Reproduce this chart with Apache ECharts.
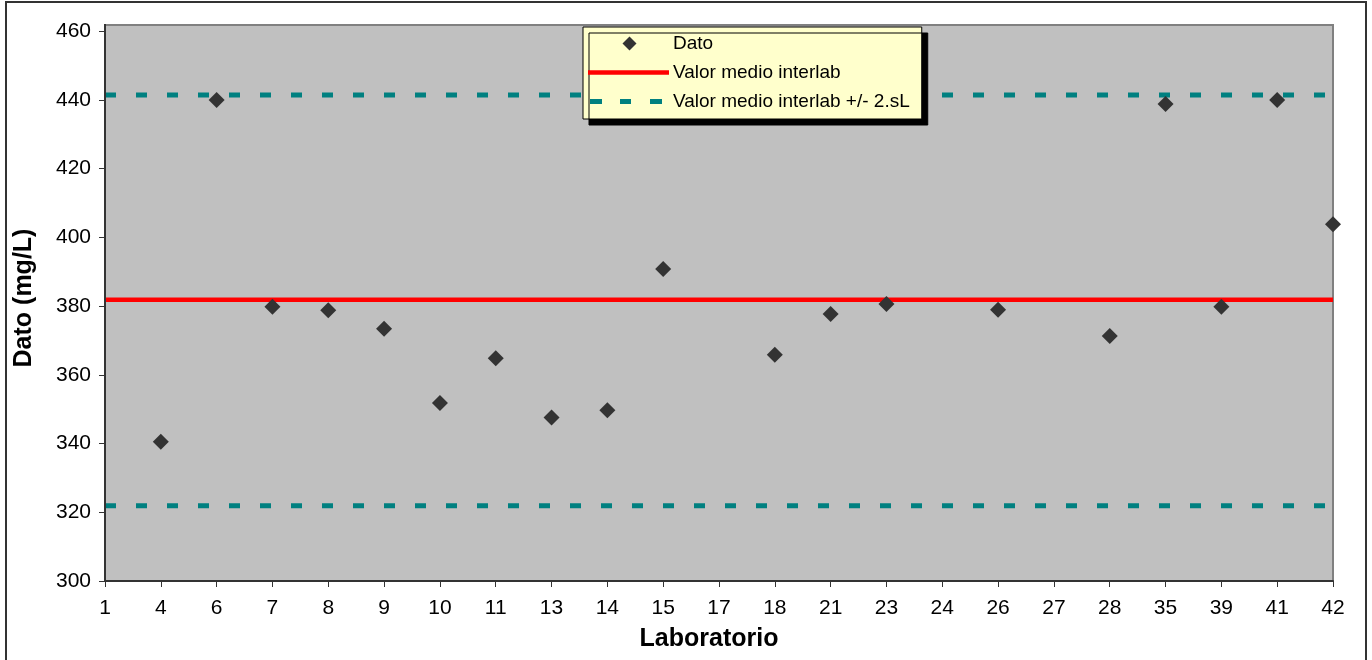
<!DOCTYPE html>
<html>
<head>
<meta charset="utf-8">
<script src="https://cdn.jsdelivr.net/npm/echarts@6/dist/echarts.min.js"></script>
<style>
html, body { margin: 0; padding: 0; background: #ffffff; }
#chart { width: 1372px; height: 660px; }
</style>
</head>
<body>
<div id="chart"></div>
<script>
const laboratorios = ['1', '4', '6', '7', '8', '9', '10', '11', '13', '14', '15', '17', '18', '21', '23', '24', '26', '27', '28', '35', '39', '41', '42'];
const datos = [null, 340.5, 439.9, 379.8, 378.8, 373.4, 351.8, 364.8, 347.6, 349.7, 390.8, null, 365.8, 377.7, 380.6, null, 378.9, null, 371.3, 438.8, 379.8, 439.9, 403.8];
const valorMedio = 381.8;
const limiteSuperior = 441.4;
const limiteInferior = 321.9;
const yMin = 300, yMax = 460, yInterval = 20;

const FONT = '"Liberation Sans", Arial, sans-serif';
const first = laboratorios[0], last = laboratorios[laboratorios.length - 1];

const ICON_DIAMOND = 'path://M0,0 M81,14 M34.5,7 L41.5,0 L48.5,7 L41.5,14 Z';
const ICON_SOLID = 'path://M0,0 M81,14 M0,4.7 L82,4.7 L82,9.3 L0,9.3 Z';
const ICON_DASH = 'path://M0,0 M81,14 M2,4.5 L14,4.5 L14,9.5 L2,9.5 Z M32,4.5 L43,4.5 L43,9.5 L32,9.5 Z M62,4.5 L74,4.5 L74,9.5 L62,9.5 Z';

const chart = echarts.init(document.getElementById('chart'), null, { renderer: 'canvas' });
chart.setOption({
  animation: false,
  backgroundColor: '#ffffff',
  textStyle: { fontFamily: FONT, color: '#000' },
  graphic: [
    { type: 'rect', z: -10, shape: { x: 6, y: 2, width: 1360, height: 680 },
      style: { fill: 'none', stroke: '#333333', lineWidth: 2 } },
    { type: 'rect', z: -5, shape: { x: 105, y: 25, width: 1228, height: 556 },
      style: { fill: '#C0C0C0', stroke: '#808080', lineWidth: 2 } },
    { type: 'line', z: 10, shape: { x1: 105, y1: 24, x2: 105, y2: 581 },
      style: { stroke: '#333333', lineWidth: 2 } }
  ],
  grid: { left: 105, right: 39, top: 31, bottom: 79, containLabel: false },
  legend: {
    left: 583, top: 27, orient: 'vertical',
    padding: [7, 12, 8, 5],
    itemGap: 10, itemWidth: 81, itemHeight: 14,
    symbolKeepAspect: true,
    backgroundColor: '#FFFFCC', borderColor: '#000000', borderWidth: 1,
    shadowColor: '#000000', shadowBlur: 0, shadowOffsetX: 6, shadowOffsetY: 6,
    textStyle: { fontFamily: FONT, fontSize: 19, color: '#000', padding: [0, 0, 0, -1] },
    data: [
      { name: 'Dato', icon: ICON_DIAMOND, itemStyle: { color: '#333333' } },
      { name: 'Valor medio interlab', icon: ICON_SOLID, itemStyle: { color: '#FF0000' } },
      { name: 'Valor medio interlab +/- 2.sL', icon: ICON_DASH, itemStyle: { color: '#008080' } }
    ]
  },
  xAxis: {
    type: 'category', data: laboratorios, boundaryGap: false,
    name: 'Laboratorio', nameLocation: 'middle', nameGap: 46,
    nameTextStyle: { fontFamily: FONT, fontSize: 25, fontWeight: 'bold', color: '#000', padding: [0, 20, 0, 0] },
    axisLine: { lineStyle: { color: '#333333', width: 2 } },
    axisTick: { show: true, length: 6, lineStyle: { color: '#333333', width: 1 } },
    axisLabel: { fontFamily: FONT, fontSize: 21, color: '#000', margin: 17, interval: 0 },
    splitLine: { show: false }
  },
  yAxis: {
    type: 'value', min: yMin, max: yMax, interval: yInterval,
    name: 'Dato (mg/L)', nameLocation: 'middle', nameGap: 68, nameRotate: 90,
    nameTextStyle: { fontFamily: FONT, fontSize: 25, fontWeight: 'bold', color: '#000', padding: [0, 0, 0, 16] },
    axisLine: { show: true, lineStyle: { color: '#333333', width: 2 } },
    axisTick: { show: true, length: 6, lineStyle: { color: '#333333', width: 1 } },
    axisLabel: { fontFamily: FONT, fontSize: 21, color: '#000', margin: 14 },
    splitLine: { show: false }
  },
  series: [
    {
      name: 'Dato', type: 'scatter', z: 5,
      symbol: 'diamond', symbolSize: 16,
      itemStyle: { color: '#333333', opacity: 1 },
      data: datos.map(v => v === null ? '-' : v)
    },
    {
      name: 'Valor medio interlab', type: 'line', z: 3,
      symbol: 'none', showSymbol: false,
      lineStyle: { color: '#FF0000', width: 4.5 },
      itemStyle: { color: '#FF0000' },
      data: [[first, valorMedio], [last, valorMedio]]
    },
    {
      name: 'Valor medio interlab +/- 2.sL', type: 'line', z: 3,
      symbol: 'none', showSymbol: false,
      lineStyle: { color: '#008080', width: 5, type: [11, 20] },
      itemStyle: { color: '#008080' },
      data: [[first, limiteSuperior], [last, limiteSuperior]]
    },
    {
      name: 'Valor medio interlab +/- 2.sL', type: 'line', z: 3,
      symbol: 'none', showSymbol: false,
      lineStyle: { color: '#008080', width: 5, type: [11, 20] },
      itemStyle: { color: '#008080' },
      data: [[first, limiteInferior], [last, limiteInferior]]
    }
  ]
});
</script>
</body>
</html>
